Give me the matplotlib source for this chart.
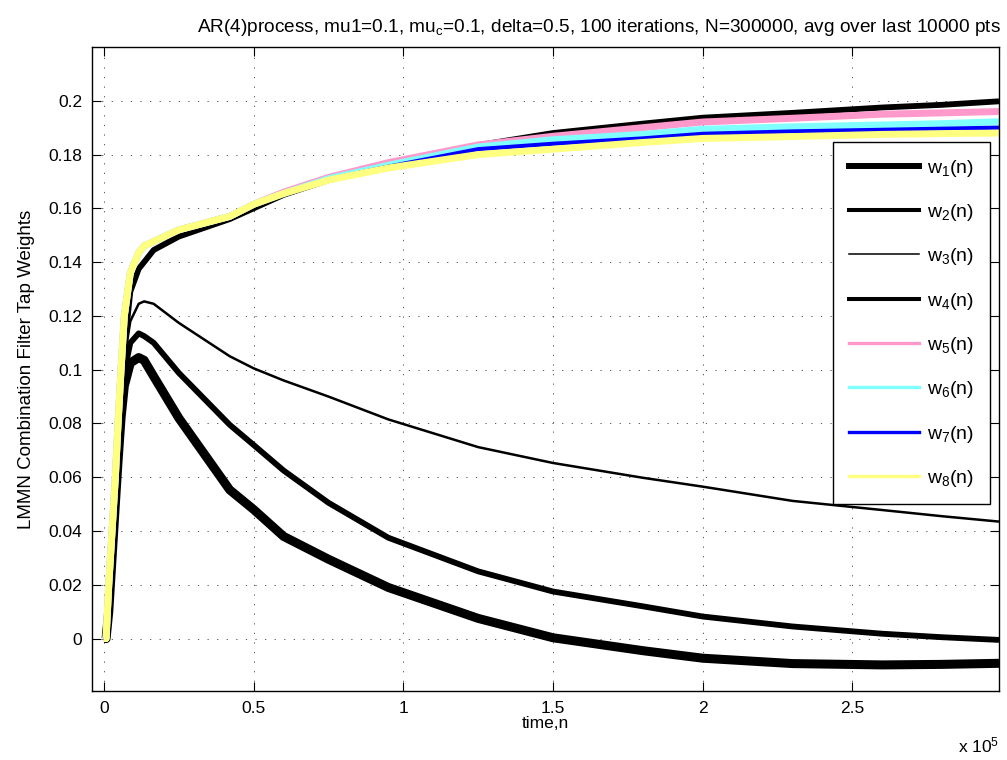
import numpy as np
import matplotlib
matplotlib.use("Agg")
import matplotlib.pyplot as plt
from matplotlib.lines import Line2D

plt.rcParams['font.family'] = ['Liberation Sans', 'DejaVu Sans']
plt.rcParams['mathtext.fontset'] = 'custom'
plt.rcParams['mathtext.rm'] = 'Liberation Sans'
plt.rcParams['mathtext.it'] = 'Liberation Sans:italic'

# time index (samples)
n = [0, 700, 1600, 2700, 3800, 4700, 5700, 6800, 8800, 11600, 13400, 16600, 25000,
     42000, 50000, 60000, 75000, 95000, 125000, 150000, 180000, 200000, 230000,
     260000, 280000, 299000]

w1 = [0, 0, 0.010, 0.030, 0.050, 0.066, 0.082, 0.094, 0.1025, 0.1045, 0.1035, 0.0975, 0.082,
      0.0553, 0.048, 0.038, 0.0295, 0.019, 0.0075, 0.0003, -0.0045, -0.0073, -0.0093,
      -0.0098, -0.0096, -0.0092]
w2 = [0, 0, 0.010, 0.030, 0.050, 0.068, 0.085, 0.099, 0.110, 0.1135, 0.1125, 0.110, 0.0988,
      0.0795, 0.072, 0.0625, 0.0505, 0.0375, 0.025, 0.0175, 0.012, 0.0082, 0.0045,
      0.0018, 0.0005, -0.0005]
w3 = [0, 0, 0.012, 0.032, 0.052, 0.070, 0.088, 0.104, 0.118, 0.1245, 0.1254, 0.1245, 0.1174,
      0.105, 0.1005, 0.096, 0.090, 0.0815, 0.0712, 0.0653, 0.0598, 0.0565, 0.0512,
      0.0478, 0.0455, 0.0435]
w4 = [0, 0, 0.012, 0.032, 0.052, 0.070, 0.090, 0.108, 0.129, 0.1375, 0.140, 0.1445, 0.1495,
      0.156, 0.160, 0.165, 0.1705, 0.176, 0.1835, 0.188, 0.1915, 0.1937, 0.1955,
      0.1975, 0.1985, 0.1998]
w5 = [0, 0, 0.020, 0.040, 0.060, 0.080, 0.100, 0.120, 0.136, 0.1435, 0.146, 0.1477, 0.152,
      0.157, 0.1615, 0.166, 0.1715, 0.177, 0.1836, 0.1868, 0.190, 0.1921, 0.1935,
      0.1950, 0.1955, 0.196]
w6 = [0, 0, 0.020, 0.040, 0.060, 0.080, 0.100, 0.120, 0.136, 0.1435, 0.146, 0.1477, 0.152,
      0.157, 0.1615, 0.1655, 0.171, 0.176, 0.1828, 0.1855, 0.1875, 0.1894, 0.1903,
      0.191, 0.1915, 0.1922]
w7 = [0, 0, 0.020, 0.040, 0.060, 0.080, 0.100, 0.120, 0.136, 0.1435, 0.146, 0.1477, 0.152,
      0.157, 0.1615, 0.1655, 0.1708, 0.1755, 0.182, 0.184, 0.186, 0.1877, 0.1886,
      0.1892, 0.1896, 0.190]
w8 = [0, 0, 0.020, 0.040, 0.060, 0.080, 0.100, 0.120, 0.136, 0.1435, 0.146, 0.1477, 0.152,
      0.157, 0.1615, 0.1655, 0.1705, 0.175, 0.180, 0.182, 0.1845, 0.186, 0.1867,
      0.1875, 0.1878, 0.188]

series = [w1, w2, w3, w4, w5, w6, w7, w8]
labels = [r'w$_%d$(n)' % (i + 1) for i in range(8)]
colors = ['k', 'k', 'k', 'k', '#ff99cc', '#80ffff', '#0000ff', '#ffff80']
plot_lw = [6.5, 4.2, 1.8, 4.2, 5.0, 5.0, 3.0, 5.0]
leg_lw = [4.3, 2.9, 1.1, 2.9, 2.4, 2.4, 2.4, 2.4]

fig = plt.figure(figsize=(10.07, 7.6), dpi=100)
ax = fig.add_axes([92/1007, 1-691/760, (999-92)/1007, (691-47)/760])

for y, c, lw in zip(series, colors, plot_lw):
    ax.plot(n, y, color=c, lw=lw, solid_joinstyle='round', solid_capstyle='butt')

ax.set_xlim(-4000, 299000)
ax.set_ylim(-0.0195, 0.22)
xt = [0, 50000, 100000, 150000, 200000, 250000]
ax.set_xticks(xt)
ax.set_xticklabels(['0', '0.5', '1', '1.5', '2', '2.5'])
yt = np.arange(0, 0.2001, 0.02)
ax.set_yticks(yt)
ax.set_yticklabels(['0'] + ['%g' % v for v in yt[1:]])
ax.tick_params(direction='in', length=6.5, width=0.8, top=True, right=True,
               labelsize=12.5, pad=7)
ax.grid(True, color='0.25', linestyle=(0, (1.5, 10)), lw=0.6)
for s in ax.spines.values():
    s.set_linewidth(1.0)

ax.set_xlabel('time,n', fontsize=12.5, labelpad=0)
ax.set_ylabel('LMMN Combination Filter Tap Weights', fontsize=13.5, labelpad=10)
fig.text(1001/1007, 1-27/760,
         r'AR(4)process, mu1=0.1, mu$_\mathrm{c}$=0.1, delta=0.5, 100 iterations, N=300000, avg over last 10000 pts',
         ha='right', va='center', fontsize=13.7)
fig.text(999/1007, 1-745/760, r'x 10$^5$', ha='right', va='center', fontsize=12.5)

handles = [Line2D([], [], color=c, lw=lw) for c, lw in zip(colors, leg_lw)]
leg = ax.legend(handles, labels, loc='upper left',
                bbox_to_anchor=(833/1007, 1-142/760), bbox_transform=fig.transFigure,
                borderaxespad=0, fontsize=14, handlelength=3.6, handletextpad=0.45,
                labelspacing=1.2, fancybox=False, framealpha=1, edgecolor='k',
                borderpad=0.8)
leg.get_frame().set_linewidth(1.0)

fig.savefig('out.png', dpi=100)
